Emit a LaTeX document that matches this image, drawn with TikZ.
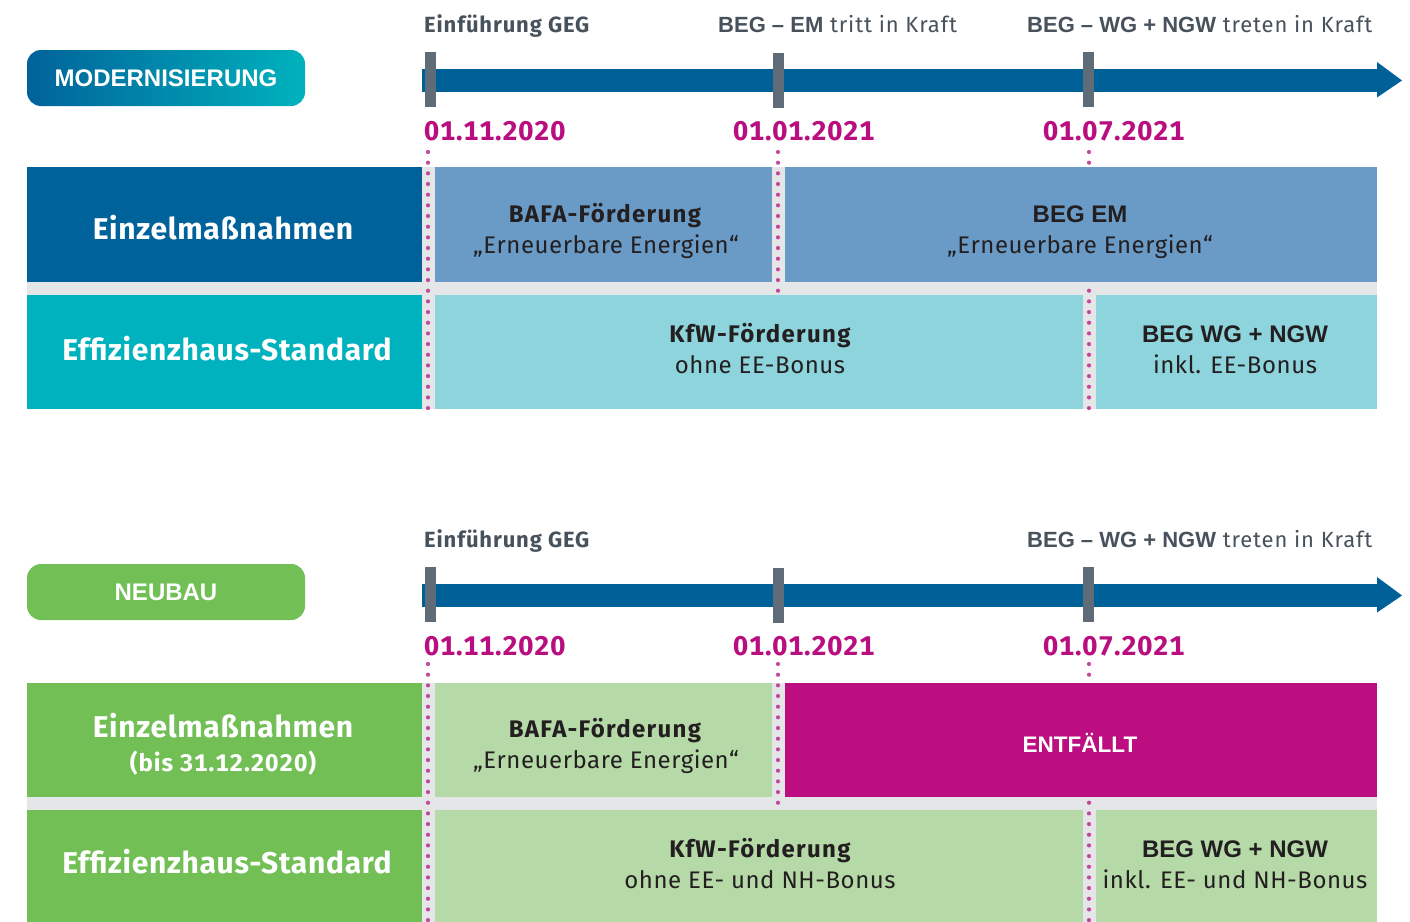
\documentclass[tikz,border=0pt]{standalone}
\usepackage{fontspec}
\setmainfont{Fira Sans}
\newfontfamily\helvfont{Liberation Sans}
\newfontfamily\timeFam{Fira Sans}[LetterSpace=4]
\newfontfamily\dateFam{Fira Sans}[LetterSpace=3, Numbers=Monospaced]
\newfontfamily\sideFam{Fira Sans}[LetterSpace=2.3]
\newfontfamily\sideNumFam{Fira Sans}[LetterSpace=4, Numbers=Monospaced]
\newfontfamily\cellRegFam{Fira Sans}[LetterSpace=2.3]
\newfontfamily\cellBoldFam{Fira Sans}[LetterSpace=5.5]
\usetikzlibrary{calc}

\definecolor{boschblue}{HTML}{00629A}
\definecolor{barblue}{HTML}{006199}
\definecolor{tickgray}{HTML}{5F6B77}
\definecolor{tealA}{HTML}{00B2BD}
\definecolor{midblue}{HTML}{6A9BC6}
\definecolor{lightteal}{HTML}{8DD4DC}
\definecolor{gapgray}{HTML}{E4E6E8}
\definecolor{greenA}{HTML}{71BF55}
\definecolor{lightgreen}{HTML}{B6D9A8}
\definecolor{magentaA}{HTML}{BC0E80}
\definecolor{dotpink}{HTML}{C5489C}
\definecolor{datepink}{HTML}{B90E7F}
\definecolor{inktext}{HTML}{231F20}
\definecolor{labgray}{HTML}{47525D}

\newcommand\xTimeFont{\timeFam\fontsize{22}{26}\selectfont}
\newcommand\xTimeHelv{\helvfont\fontsize{22}{26}\selectfont\bfseries}
\newcommand\xDateFont{\dateFam\fontsize{27}{32}\selectfont\bfseries}
\newcommand\xSideFont{\sideFam\fontsize{30}{36}\selectfont\bfseries}
\newcommand\xSideSmall{\sideNumFam\fontsize{24}{28}\selectfont\bfseries}
\newcommand\xCellFont{\cellRegFam\fontsize{24}{28}\selectfont}
\newcommand\xCellBold{\cellBoldFam\fontsize{24}{28}\selectfont\bfseries}
\newcommand\xCellHelv{\helvfont\fontsize{24}{28}\selectfont\bfseries}
\newcommand\xPillFont{\helvfont\fontsize{24}{28}\selectfont\bfseries}

\tikzset{
  box/.style={anchor=north west, inner sep=0pt, outer sep=0pt, draw=none},
  pillbox/.style={inner sep=0pt, outer sep=0pt, minimum width=278pt,
    minimum height=56pt, rounded corners=14pt, text=white, font=\xPillFont},
  tickbar/.style={inner sep=0pt, outer sep=0pt, minimum width=11pt,
    minimum height=55pt, fill=tickgray},
  timebar/.style={draw=barblue, line width=23pt},
  dotline/.style={draw=dotpink, line width=4.2pt, line cap=round,
    dash pattern=on 0pt off 10.67pt},
  timelabel/.style={anchor=base west, inner sep=0pt, text=labgray, font=\xTimeFont},
  datelabel/.style={anchor=base west, inner sep=0pt, text=datepink, font=\xDateFont},
  sidelabel/.style={anchor=base, inner sep=0pt, text=white, font=\xSideFont},
  celltext/.style={anchor=base, inner sep=0pt, text=inktext, font=\xCellFont},
  cellhead/.style={celltext, font=\xCellBold},
  cellheadhelv/.style={celltext, font=\xCellHelv},
}

\begin{document}
\begin{tikzpicture}[x=1pt, y=-1pt]
\useasboundingbox[fill=white] (0,0) rectangle (1410,921);

% ---------------- Modernisierung ----------------
\node[pillbox, left color=boschblue, right color=tealA] (modpill) at (166,78) {MODERNISIERUNG};

% timeline
\coordinate (tlAs) at (422,80.5);
\coordinate (tlAe) at (1378,80.5);
\draw[timebar] (tlAs) -- (tlAe);
\fill[barblue] ($(tlAe)+(-1,-18.5)$) -- ($(tlAe)+(24,0)$) -- ($(tlAe)+(-1,17)$) -- cycle;
\node[tickbar] (tickA1) at (430,79) {};
\node[tickbar] (tickA2) at (778.5,80) {};
\node[tickbar] (tickA3) at (1088.5,79) {};

\node[timelabel] (evA1) at (424,32) {\bfseries Einführung GEG};
\node[timelabel] (evA2) at (718,32) {{\xTimeHelv BEG – EM} tritt in Kraft};
\node[timelabel] (evA3) at (1027,32) {{\xTimeHelv BEG – WG + NGW} treten in Kraft};

\node[datelabel] (dateA1) at (424,140) {01.11.2020};
\node[datelabel] (dateA2) at (733,140) {01.01.2021};
\node[datelabel] (dateA3) at (1043,140) {01.07.2021};

% table background
\node[box, fill=gapgray, minimum width=1350pt, minimum height=242pt] (bandA) at (27,167) {};

% date markers
\coordinate (mA1s) at (428,152); \coordinate (mA1e) at (428,416);
\coordinate (mA2s) at (778,152); \coordinate (mA2e) at (778,294);
\coordinate (mA3s) at (1089,152); \coordinate (mA3e) at (1089,414);
\draw[dotline] (mA1s) -- (mA1e);
\draw[dotline] (mA2s) -- (mA2e);
\draw[dotline] (mA3s) -- (mA3e);

% cells
\node[box, fill=boschblue, minimum width=395pt, minimum height=115pt] (sideA1) at (27,167) {};
\node[box, fill=tealA, minimum width=395pt, minimum height=114pt] (sideA2) at (27,295) {};
\node[box, fill=midblue, minimum width=337pt, minimum height=115pt] (cellA11) at (435,167) {};
\node[box, fill=midblue, minimum width=592pt, minimum height=115pt] (cellA12) at (785,167) {};
\node[box, fill=lightteal, minimum width=648pt, minimum height=114pt] (cellA21) at (435,295) {};
\node[box, fill=lightteal, minimum width=281pt, minimum height=114pt] (cellA22) at (1096,295) {};

\node[sidelabel] (sideA1t) at (223,239) {Einzelmaßnahmen};
\node[sidelabel] (sideA2t) at (227,360) {Effizienzhaus-Standard};

\node[cellhead] (cA11a) at (605,222) {BAFA-Förderung};
\node[celltext] (cA11b) at (606,253) {„Erneuerbare Energien“};
\node[cellheadhelv] (cA12a) at (1080,222) {BEG EM};
\node[celltext] (cA12b) at (1080,253) {„Erneuerbare Energien“};
\node[cellhead] (cA21a) at (760,342) {KfW-Förderung};
\node[celltext] (cA21b) at (760,373) {ohne EE-Bonus};
\node[cellheadhelv] (cA22a) at (1235,342) {BEG WG + NGW};
\node[celltext] (cA22b) at (1235,373) {inkl. EE-Bonus};

% ---------------- Neubau ----------------
\node[pillbox, fill=greenA] (newpill) at (166,592) {NEUBAU};

\coordinate (tlBs) at (422,595.5);
\coordinate (tlBe) at (1378,595.5);
\draw[timebar] (tlBs) -- (tlBe);
\fill[barblue] ($(tlBe)+(-1,-18.5)$) -- ($(tlBe)+(24,0)$) -- ($(tlBe)+(-1,17)$) -- cycle;
\node[tickbar] (tickB1) at (430,594) {};
\node[tickbar] (tickB2) at (778.5,595) {};
\node[tickbar] (tickB3) at (1088.5,594) {};

\node[timelabel] (evB1) at (424,547) {\bfseries Einführung GEG};
\node[timelabel] (evB3) at (1027,547) {{\xTimeHelv BEG – WG + NGW} treten in Kraft};

\node[datelabel] (dateB1) at (424,655) {01.11.2020};
\node[datelabel] (dateB2) at (733,655) {01.01.2021};
\node[datelabel] (dateB3) at (1043,655) {01.07.2021};

\node[box, fill=gapgray, minimum width=1350pt, minimum height=241pt] (bandB) at (27,683) {};

\coordinate (mB1s) at (428,664); \coordinate (mB1e) at (428,930);
\coordinate (mB2s) at (778,664); \coordinate (mB2e) at (778,808);
\coordinate (mB3s) at (1089,664); \coordinate (mB3e) at (1089,930);
\draw[dotline] (mB1s) -- (mB1e);
\draw[dotline] (mB2s) -- (mB2e);
\draw[dotline] (mB3s) -- (mB3e);

\node[box, fill=greenA, minimum width=395pt, minimum height=114pt] (sideB1) at (27,683) {};
\node[box, fill=greenA, minimum width=395pt, minimum height=114pt] (sideB2) at (27,810) {};
\node[box, fill=lightgreen, minimum width=337pt, minimum height=114pt] (cellB11) at (435,683) {};
\node[box, fill=magentaA, minimum width=592pt, minimum height=114pt] (cellB12) at (785,683) {};
\node[box, fill=lightgreen, minimum width=648pt, minimum height=114pt] (cellB21) at (435,810) {};
\node[box, fill=lightgreen, minimum width=281pt, minimum height=114pt] (cellB22) at (1096,810) {};

\node[sidelabel] (sideB1t) at (223,737) {Einzelmaßnahmen};
\node[sidelabel, font=\xSideSmall] (sideB1s) at (223,771) {(bis 31.12.2020)};
\node[sidelabel] (sideB2t) at (227,873) {Effizienzhaus-Standard};

\node[cellhead] (cB11a) at (605,737) {BAFA-Förderung};
\node[celltext] (cB11b) at (606,768) {„Erneuerbare Energien“};
\node[celltext, text=white, font=\xPillFont\fontsize{22.5}{26}\selectfont] (cB12a) at (1080,752) {ENTFÄLLT};
\node[cellhead] (cB21a) at (760,857) {KfW-Förderung};
\node[celltext] (cB21b) at (760,888) {ohne EE- und NH-Bonus};
\node[cellheadhelv] (cB22a) at (1235,857) {BEG WG + NGW};
\node[celltext] (cB22b) at (1235,888) {inkl. EE- und NH-Bonus};
\end{tikzpicture}
\end{document}
